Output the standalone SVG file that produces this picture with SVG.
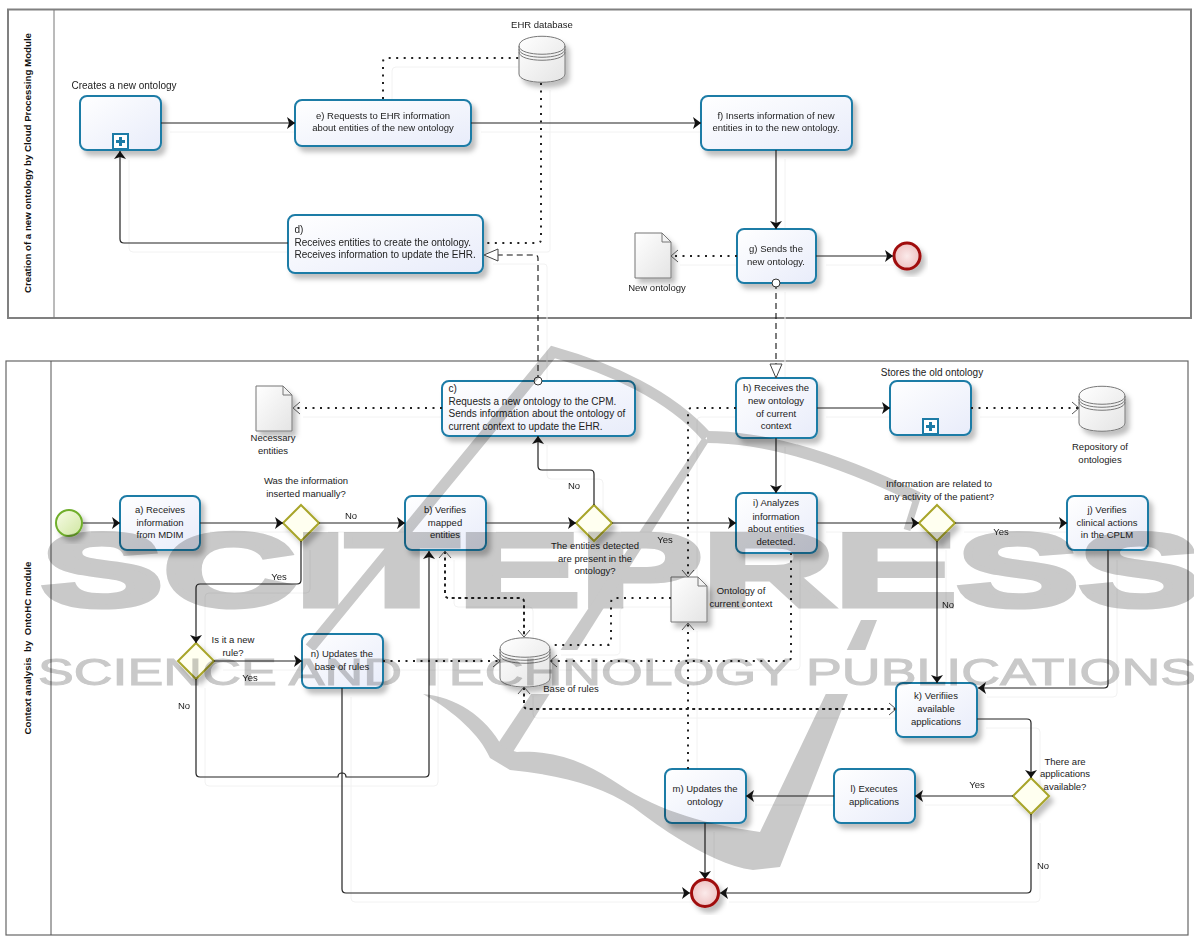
<svg xmlns="http://www.w3.org/2000/svg" width="1194" height="936" viewBox="0 0 1194 936">
<defs>
<linearGradient id="t" x1="0" y1="0" x2="1" y2="1"><stop offset="0" stop-color="#fff"/><stop offset="1" stop-color="#e8ecfa"/></linearGradient>
<linearGradient id="o" x1="0" y1="0" x2="1" y2="1"><stop offset="0" stop-color="#fff"/><stop offset="1" stop-color="#e4e4e4"/></linearGradient>
<radialGradient id="e"><stop offset="0" stop-color="#fbeaea"/><stop offset="1" stop-color="#eec4c4"/></radialGradient>
<linearGradient id="s" x1="0" y1="0" x2="1" y2="1"><stop offset="0" stop-color="#f8fce8"/><stop offset="1" stop-color="#cfe6a0"/></linearGradient>
<marker id="a" markerUnits="userSpaceOnUse" markerWidth="10" markerHeight="12" refX="8" refY="6" orient="auto"><path d="M0 0L8 6L0 12L2 6Z" fill="#111"/></marker>
<marker id="v" markerUnits="userSpaceOnUse" markerWidth="10" markerHeight="14" refX="8" refY="7" orient="auto"><path d="M1 1L8 7L1 13" fill="none" stroke="#555"/></marker>
<marker id="vs" markerUnits="userSpaceOnUse" markerWidth="10" markerHeight="14" refX="2" refY="7" orient="auto"><path d="M9 1L2 7L9 13" fill="none" stroke="#555"/></marker>
<marker id="h" markerUnits="userSpaceOnUse" markerWidth="16" markerHeight="14" refX="15" refY="7" orient="auto"><path d="M1 1L15 7L1 13Z" fill="#fff" stroke="#444"/></marker>
<marker id="c" markerUnits="userSpaceOnUse" markerWidth="11" markerHeight="11" refX="5.500" refY="5.500"><circle cx="5.500" cy="5.500" r="4" fill="#fff" stroke="#333"/></marker>
<filter id="sh" x="-20%" y="-20%" width="150%" height="150%"><feDropShadow dx="4" dy="5" stdDeviation="2.500" flood-color="#000" flood-opacity=".25"/></filter>
<clipPath id="logo"><rect x="0" y="0" width="1194" height="650"/><rect x="0" y="694" width="1194" height="242"/></clipPath>
</defs>
<style>
text{font-family:"Liberation Sans",Arial,sans-serif;font-size:9.500px;fill:#222;text-anchor:middle;white-space:pre}
.p{font-weight:bold;font-size:9.700px;fill:#111}
.l{text-anchor:start}
.big{font-size:10px}
.task{fill:url(#t);stroke:#1c7ba6;stroke-width:2;filter:url(#sh)}
.gw{fill:#fffff0;stroke:#a8a52a;stroke-width:2;filter:url(#sh)}
.lane{fill:#fff;stroke:#808080;stroke-width:2}
.lane2{fill:#fff;stroke:#666;stroke-width:1.200}
.obj{fill:url(#o);stroke:#777;filter:url(#sh)}
.thin{fill:none;stroke:#777}
.ghost{fill:none;stroke:#f2f2f2;stroke-width:1}
.f{fill:none;stroke:#222;stroke-width:1.200;marker-end:url(#a)}
.d{fill:none;stroke:#222;stroke-width:2;stroke-dasharray:2 5.500;marker-end:url(#v)}
.b{marker-start:url(#vs);stroke-dasharray:3 3.500}
.dn{fill:none;stroke:#222;stroke-width:2;stroke-dasharray:2 5.500}
.m{fill:none;stroke:#111;stroke-width:1.100;stroke-dasharray:6 4;marker-start:url(#c);marker-end:url(#h)}
#watermark{mix-blend-mode:multiply}
.wm{fill:#c9c9c9;font-weight:bold;text-anchor:start}
.ws{fill:none;stroke:#c9c9c9;stroke-linejoin:miter}
</style>
<g id="lanes">
<rect class="lane" x="8" y="9.500" width="1183" height="308.500"/><line class="thin" x1="54" y1="10" x2="54" y2="318"/>
<text class="p" transform="translate(31 163) rotate(-90)">Creation of a new ontology by Cloud Processing Module</text>
<rect class="lane2" x="6" y="361" width="1182" height="574"/><line x1="51" y1="361" x2="51" y2="935" stroke="#555"/>
<text class="p" transform="translate(31 648) rotate(-90)">Context analysis  by  OntoHC module</text>
</g>
<path id="ghosts" class="ghost" transform="translate(9 9)" d="M161 123H295M472 123H701M288 243H124Q120 243 120 239V151M776 150V229M817 256H893M383 99V62Q383 58 387 58H520M541 81V241Q541 243 538 243H484M737 256H671M538 381V258Q538 255 535 255H484M776 283V378M82 523H119M201 523H283M319 523H405M487 523H577M612 523H736M817 523H919M955 523H1067M594 505V474Q594 470 590 470H542Q538 470 538 466V436M776 438V494M817 408H889M442 408H294M971 408H1079M736 408H692Q688 408 688 412V577M688 768V622M383 661H500M791 551V657Q791 661 787 661H550M670 598H616Q611 598 611 604V642Q611 646 606 646H552M445 551V594Q445 598 449 598H520Q524 598 524 602V637M524 687V705Q524 709 528 709H896M301 541V580Q301 584 297 584H200Q196 584 196 588V642M214 661H302M196 679V773Q196 777 200 777H425Q429 777 429 773V551M937 541V682M1108 551V684Q1108 688 1104 688H978M977 719H1027Q1031 719 1031 723V779M1013 796H916M834 796H746M705 823V880M1031 814V889Q1031 893 1027 893H720M342 688V889Q342 893 346 893H690"/>
<g id="n-sub1"><rect class="task" x="80" y="96" width="81" height="54" rx="7"/><text class="big" x="124" y="89">Creates a new ontology</text><rect x="113" y="134" width="15" height="15" fill="#fff" stroke="#1c7ba6" stroke-width="2"/><path d="M120.500 137v9M116 141.500h9" stroke="#1c7ba6" stroke-width="3"/></g>
<g id="n-e"><rect class="task" x="295" y="100" width="176" height="46" rx="7"/><text x="383" y="119">e) Requests to EHR information</text><text x="383" y="131">about entities of the new ontology</text></g>
<g id="n-f"><rect class="task" x="701" y="96" width="151" height="54" rx="7"/><text x="776" y="119">f) Inserts information of new</text><text x="776" y="131">entities in to the new ontology.</text></g>
<g id="n-d"><rect class="task" x="288" y="215" width="195" height="58" rx="7"/><text class="l big" x="294.500" y="233">d)</text><text class="l big" x="294.500" y="246">Receives entities to create the ontology.</text><text class="l big" x="294.500" y="258">Receives information to update the EHR.</text></g>
<g id="n-g"><rect class="task" x="737" y="229" width="79" height="54" rx="7"/><text x="776" y="252">g) Sends the</text><text x="776" y="265">new ontology.</text></g>
<g id="n-end1"><circle cx="907" cy="256" r="13" fill="url(#e)" stroke="#a00f0f" stroke-width="3" filter="url(#sh)"/></g>
<g id="n-ehr"><path class="obj" d="M519 46C519 33 565 33 565 46V74C565 85 519 85 519 74Z"/><path class="thin" d="M519 46C519 57 565 57 565 46M519 49C519 60 565 60 565 49M519 52C519 63 565 63 565 52"/><text x="542" y="28">EHR database</text></g>
<g id="n-newont"><path class="obj" d="M635 233H662L671 242V278H635Z"/><path class="thin" d="M662 233V242H671"/><text x="657" y="291">New ontology</text></g>
<g id="n-start"><circle cx="69" cy="523" r="13" fill="url(#s)" stroke="#6fae2c" stroke-width="2" filter="url(#sh)"/></g>
<g id="n-a"><rect class="task" x="120" y="496" width="80" height="54" rx="7"/><text x="160" y="513">a) Receives</text><text x="160" y="526">information</text><text x="160" y="538">from MDIM</text></g>
<g id="n-gw1"><path class="gw" d="M301 505L319 523L301 541L283 523Z"/><text x="306" y="484">Was the information</text><text x="306" y="497">inserted manually?</text></g>
<g id="n-b"><rect class="task" x="405" y="496" width="81" height="54" rx="7"/><text x="445" y="513">b) Verifies</text><text x="445" y="526">mapped</text><text x="445" y="538">entities</text></g>
<g id="n-gw2"><path class="gw" d="M594 505L612 523L594 541L576 523Z"/><text x="595" y="549">The entities detected</text><text x="595" y="562">are present in the</text><text x="595" y="574">ontology?</text></g>
<g id="n-c"><rect class="task" x="442" y="381" width="193" height="55" rx="7"/><text class="l big" x="448.500" y="392">c)</text><text class="l big" x="448.500" y="405">Requests a new ontology to the CPM.</text><text class="l big" x="448.500" y="417">Sends information about the ontology of</text><text class="l big" x="448.500" y="430">current context to update the EHR.</text></g>
<g id="n-nec"><path class="obj" d="M256 386H283L292 395V431H256Z"/><path class="thin" d="M283 386V395H292"/><text x="273" y="441">Necessary</text><text x="273" y="454">entities</text></g>
<g id="n-h"><rect class="task" x="736" y="378" width="81" height="60" rx="7"/><text x="776" y="391">h) Receives the</text><text x="776" y="404">new ontology</text><text x="776" y="417">of current</text><text x="776" y="429">context</text></g>
<g id="n-sub2"><rect class="task" x="890" y="381" width="81" height="54" rx="7"/><text class="big" x="932" y="376">Stores the old ontology</text><rect x="923" y="419" width="15" height="15" fill="#fff" stroke="#1c7ba6" stroke-width="2"/><path d="M930.500 422v9M926 426.500h9" stroke="#1c7ba6" stroke-width="3"/></g>
<g id="n-repo"><path class="obj" d="M1079 396C1079 383 1125 383 1125 396V423C1125 434 1079 434 1079 423Z"/><path class="thin" d="M1079 396C1079 407 1125 407 1125 396M1079 399C1079 410 1125 410 1125 399M1079 402C1079 413 1125 413 1125 402"/><text x="1100" y="450">Repository of</text><text x="1100" y="463">ontologies</text></g>
<g id="n-i"><rect class="task" x="736" y="493" width="81" height="60" rx="7"/><text x="776" y="506">i) Analyzes</text><text x="776" y="520">information</text><text x="776" y="532">about entities</text><text x="776" y="545">detected.</text></g>
<g id="n-gw3"><path class="gw" d="M937 505L955 523L937 541L919 523Z"/><text x="939" y="487">Information are related to</text><text x="939" y="500">any activity of the patient?</text></g>
<g id="n-j"><rect class="task" x="1067" y="496" width="81" height="54" rx="7"/><text x="1107" y="513">j) Verifies</text><text x="1107" y="526">clinical actions</text><text x="1107" y="538">in the CPLM</text></g>
<g id="n-gw4"><path class="gw" d="M196 643L214 661L196 679L178 661Z"/><text x="233" y="643">Is it a new</text><text x="233" y="656">rule?</text></g>
<g id="n-n"><rect class="task" x="302" y="634" width="81" height="54" rx="7"/><text x="342" y="657">n) Updates the</text><text x="342" y="670">base of rules</text></g>
<g id="n-base"><path class="obj" d="M500 649C500 634 550 634 550 649V678C550 690 500 690 500 678Z"/><path class="thin" d="M500 649C500 660 550 660 550 649M500 652C500 663 550 663 550 652M500 655C500 666 550 666 550 655"/><text x="571" y="692">Base of rules</text></g>
<g id="n-ont"><path class="obj" d="M671 577H698L707 586V622H671Z"/><path class="thin" d="M698 577V586H707"/><text x="741" y="594">Ontology of</text><text x="741" y="607">current context</text></g>
<g id="n-k"><rect class="task" x="896" y="683" width="81" height="54" rx="7"/><text x="936" y="699">k) Verifiies</text><text x="936" y="712">available</text><text x="936" y="725">applications</text></g>
<g id="n-gw5"><path class="gw" d="M1031 778L1049 796L1031 814L1013 796Z"/><text x="1065" y="765">There are</text><text x="1065" y="777">applications</text><text x="1065" y="790">available?</text></g>
<g id="n-l"><rect class="task" x="834" y="769" width="81" height="54" rx="7"/><text x="874" y="792">l) Executes</text><text x="874" y="805">applications</text></g>
<g id="n-m"><rect class="task" x="665" y="769" width="81" height="54" rx="7"/><text x="705" y="792">m) Updates the</text><text x="705" y="805">ontology</text></g>
<g id="n-end2"><circle cx="705" cy="893" r="13.500" fill="url(#e)" stroke="#a00f0f" stroke-width="3" filter="url(#sh)"/></g>
<g id="connectors">
<path class="f" d="M161 123H295"/>
<path class="f" d="M471 123H701"/>
<path class="f" d="M288 243H124Q120 243 120 239V151"/>
<path class="f" d="M776 150V229"/>
<path class="f" d="M816 256H893"/>
<path class="dn" d="M383 99V62Q383 58 387 58H519"/>
<path class="dn" d="M541 83V239Q541 243 537 243H484"/>
<path class="d" d="M737 256H671"/>
<path class="m" d="M538 381V258Q538 255 535 255H484"/>
<path class="m" d="M776 283V378"/>
<path class="f" d="M83 523H120"/>
<path class="f" d="M200 523H283"/>
<path class="f" d="M319 523H405"/>
<path class="f" d="M486 523H576"/>
<path class="f" d="M612 523H736"/>
<path class="f" d="M817 523H919"/>
<path class="f" d="M955 523H1067"/>
<path class="f" d="M594 505V474Q594 470 590 470H542Q538 470 538 466V436"/>
<path class="f" d="M776 438V493"/>
<path class="f" d="M817 408H890"/>
<path class="f" d="M301 541V580Q301 584 297 584H200Q196 584 196 588V643"/>
<path class="f" d="M214 661H302"/>
<path class="f" d="M196 679V773Q196 777 200 777H338Q338 773 342 773Q346 773 346 777H425Q429 777 429 773V551"/>
<path class="f" d="M937 541V683"/>
<path class="f" d="M1108 550V684Q1108 688 1104 688H978"/>
<path class="f" d="M977 719H1027Q1031 719 1031 723V778"/>
<path class="f" d="M1013 796H915"/>
<path class="f" d="M834 796H746"/>
<path class="f" d="M705 823V879"/>
<path class="f" d="M1031 814V889Q1031 893 1027 893H720"/>
<path class="f" d="M342 688V889Q342 893 346 893H690"/>
<path class="d" d="M442 408H293"/>
<path class="d" d="M971 408H1079"/>
<path class="d" d="M736 408H692Q688 408 688 412V577"/>
<path class="d" d="M688 769V623"/>
<path class="d" d="M383 661H500"/>
<path class="d" d="M791 553V657Q791 661 787 661H550"/>
<path class="dn" d="M671 598H616Q611 598 611 603V641Q611 645 607 645H552"/>
<path class="d b" d="M445 551V594Q445 598 449 598H520Q524 598 524 602V637"/>
<path class="d b" d="M524 687V705Q524 709 528 709H896"/>
</g>
<g id="labels">
<text x="351" y="519">No</text><text x="574" y="489">No</text><text x="665" y="543">Yes</text><text x="1001" y="535">Yes</text><text x="279" y="580">Yes</text><text x="250" y="681">Yes</text><text x="184" y="709">No</text><text x="948" y="608">No</text><text x="977" y="788">Yes</text><text x="1043" y="869">No</text>
</g>
<g id="watermark">
<text class="wm" x="41" y="605.500" textLength="1160" lengthAdjust="spacingAndGlyphs" style="font-size:104px;stroke:#c9c9c9;stroke-width:5">SCITEPRESS</text>
<text class="wm" x="38" y="685" textLength="1158" lengthAdjust="spacingAndGlyphs" style="font-size:37px;font-weight:normal;stroke:#c9c9c9;stroke-width:1">SCIENCE AND TECHNOLOGY PUBLICATIONS</text>
<g clip-path="url(#logo)">
<path class="ws" stroke-width="11" d="M310 648L553 352C610 368 670 395 707 437"/>
<path class="ws" stroke-width="12" d="M707 437C760 437 830 455 918 498"/>
<path class="ws" stroke-width="7" d="M917 498L907 530"/>
<path fill="#c9c9c9" d="M703 437L709 441L513 752L495 748Z"/>
<path fill="#c9c9c9" d="M423 694C455 697 485 715 503 748L517 752C560 750 590 765 620 785C660 812 710 825 760 832L861 620L877 620L780 867L753 870C715 865 670 835 633 807C600 785 560 775 510 770L490 758C480 735 455 712 423 694Z"/>
</g>
</g>
</svg>
